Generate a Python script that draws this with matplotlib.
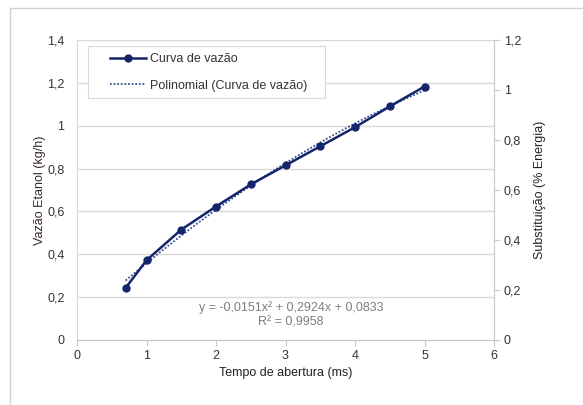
import numpy as np
import matplotlib
matplotlib.use("Agg")
import matplotlib.pyplot as plt
from matplotlib.patches import Rectangle
from matplotlib.ticker import FuncFormatter

plt.rcParams["font.family"] = ["Liberation Sans", "DejaVu Sans"]

tempo = [0.7, 1.0, 1.5, 2.0, 2.5, 3.0, 3.5, 4.0, 4.5, 5.0]
vazao = [0.243, 0.372, 0.515, 0.623, 0.726, 0.815, 0.904, 0.993, 1.09, 1.183]
eq_text = "y = -0,0151x² + 0,2924x + 0,0833\nR² = 0,9958"

navy = "#14256b"
grid_c = "#d9d9d9"
tick_c = "#333333"
fs = 9


def comma(v, pos):
    s = f"{v:.1f}".rstrip("0").rstrip(".")
    return s.replace(".", ",")


fig = plt.figure(figsize=(5.83, 4.05), dpi=100)
fig.patches.append(Rectangle((10 / 583, -0.1), 1.2, 1.1 - 8 / 405, transform=fig.transFigure,
                             fill=False, edgecolor="#d0d0d0", linewidth=1.0))

ax = fig.add_axes([77 / 583, 1 - 340 / 405, 417 / 583, 300 / 405])
ax.set_xlim(0, 6)
ax.set_ylim(0, 1.4)
ax.set_yticks(np.arange(0, 1.41, 0.2))
ax.set_xticks(range(0, 7))
ax.yaxis.set_major_formatter(FuncFormatter(comma))
ax.grid(axis="y", color=grid_c, linewidth=1.0)
ax.set_axisbelow(True)
for side in ["top", "right"]:
    ax.spines[side].set_visible(False)
ax.spines["left"].set_color(grid_c)
ax.spines["bottom"].set_color("#c8c8c8")
ax.tick_params(axis="y", length=0, labelsize=fs, labelcolor=tick_c, pad=9)
ax.tick_params(axis="x", length=4, color="#c8c8c8", labelsize=fs, labelcolor=tick_c, pad=3)

# trendline fitted from the data (2nd order polynomial)
coef = np.polyfit(tempo, vazao, 2)
xs = np.linspace(min(tempo), max(tempo), 100)
ax.plot(xs, np.polyval(coef, xs), linestyle=(0, (1, 1)), color="#3a4f8f", linewidth=1.3,
        label="Polinomial (Curva de vazão)", zorder=3)
ax.plot(tempo, vazao, color=navy, linewidth=1.8, marker="o", markersize=5,
        label="Curva de vazão", zorder=4)

# legend box drawn separately so it can have the wide side padding of the original
ax.add_patch(Rectangle((11 / 417, 1 - 58 / 300), 237 / 417, 52 / 300, transform=ax.transAxes,
                       facecolor="white", edgecolor="#d9d9d9", linewidth=0.8, zorder=5))
h, l = ax.get_legend_handles_labels()
leg = ax.legend(h[::-1], l[::-1], loc="upper left", bbox_to_anchor=(33 / 417, 1 - 13 / 300),
                fontsize=fs, frameon=False, handlelength=2.9, handletextpad=0.3,
                borderpad=0, labelspacing=1.17, borderaxespad=0)
leg.set_zorder(6)
for t in leg.get_texts():
    t.set_color(tick_c)

ax.text(3.08, 0.118, eq_text, ha="center", va="center", fontsize=fs, color="#7f7f7f",
        linespacing=1.3)

ax.set_xlabel("Tempo de abertura (ms)", fontsize=fs, color="#222222", labelpad=4)
ax.set_ylabel("Vazão Etanol (kg/h)", fontsize=fs, color="#3a2a2a", labelpad=1)

ax2 = ax.twinx()
ax2.set_ylim(0, 1.2)
ax2.set_yticks(np.arange(0, 1.21, 0.2))
ax2.yaxis.set_major_formatter(FuncFormatter(comma))
for side in ["top", "left", "bottom"]:
    ax2.spines[side].set_visible(False)
ax2.spines["right"].set_color("#c8c8c8")
ax2.tick_params(axis="y", length=4, color="#c8c8c8", labelsize=fs, labelcolor=tick_c, pad=3)
ax2.set_ylabel("Substituição (% Energia)", fontsize=fs, color="#222222", labelpad=9)

fig.savefig("out.png", dpi=100)
